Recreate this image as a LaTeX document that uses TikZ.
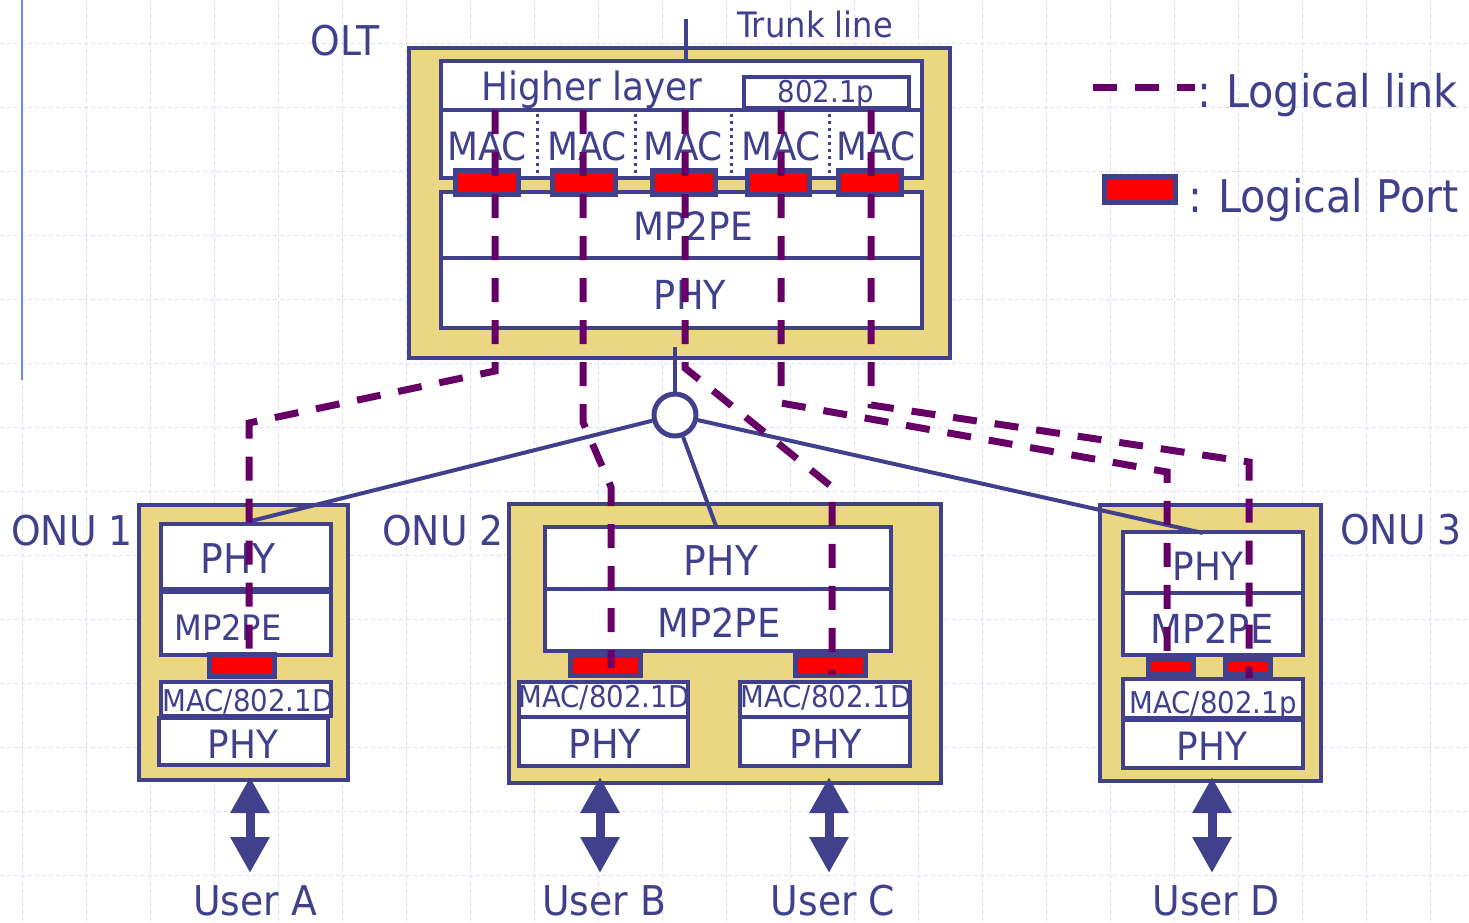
\documentclass[tikz,border=0pt]{standalone}
\usepackage{fontspec}
\setmainfont{DejaVu Sans}[FakeStretch=0.92]
\usetikzlibrary{arrows.meta}
\definecolor{ink}{RGB}{64,64,140}
\definecolor{tanfill}{RGB}{235,214,130}
\definecolor{plum}{RGB}{102,0,102}
\definecolor{gridc}{RGB}{216,224,252}
\definecolor{axisc}{RGB}{110,140,235}
\newcommand\fsz[1]{\fontsize{#1}{#1}\selectfont}
\newcommand\mybox[6]{\pgfmathsetmacro\bw{#4-#2}\pgfmathsetmacro\bh{#5-#3}%
  \node[#6, minimum width=\bw pt, minimum height=\bh pt] (#1) at (#2,#3) {};}
\tikzset{
  gridline/.style={draw=gridc, line width=1pt, dash pattern=on 4pt off 3pt},
  box/.style={draw=ink, line width=4pt, fill=white, inner sep=0pt, outer sep=0pt, anchor=north west},
  outerbox/.style={box, fill=tanfill},
  portbox/.style={draw=ink, line width=5pt, fill=red, inner sep=0pt, outer sep=0pt, anchor=north west},
  lab/.style={text=ink, inner sep=0pt, anchor=base},
  labw/.style={text=ink, inner sep=0pt, anchor=base west},
  wire/.style={draw=ink, line width=4pt},
  link/.style={draw=plum, line width=7pt, dash pattern=on 24pt off 18pt},
  sep/.style={draw=ink, line width=3pt, dash pattern=on 3pt off 4pt},
  userarrow/.style={draw=ink, line width=9pt, {Triangle[length=36pt,width=37pt]}-{Triangle[length=36pt,width=37pt]}},
}
\begin{document}
\begin{tikzpicture}[x=1pt,y=-1pt]
\useasboundingbox (0,0) rectangle (1469,922);
% background grid
\foreach \i in {0,...,22} \draw[gridline] ({22+64*\i},0) -- ({22+64*\i},922);
\foreach \j in {0,...,13} \draw[gridline] (0,{43+64*\j}) -- (1469,{43+64*\j});
\draw[axisc, line width=2pt] (22,0) -- (22,380);

% ---------- OLT ----------
\mybox{olt}{409}{48}{950}{358}{outerbox}
\mybox{hl}{441}{61}{922}{110}{box}
\mybox{dotp}{744}{77}{909}{108}{box}
\mybox{macrow}{441}{110}{922}{178}{box}
\mybox{oltmp}{441}{192}{922}{258}{box}
\mybox{oltphy}{441}{258}{922}{328}{box}
\foreach \x in {537,635,731,829} \draw[sep] (\x,114) -- (\x,176);
\node[lab, font=\fsz{41}] (toltlab) at (345,55) {OLT};
\node[lab, font=\fsz{35}] (ttrunk) at (815,37) {Trunk line};
\node[lab, font=\fsz{39}] (thl) at (592,100) {Higher layer};
\node[lab, font=\fsz{30}] (tdotp) at (826,102) {802.1p};
\node[lab, font=\fsz{39}] (tmac1) at (487,160) {MAC};
\node[lab, font=\fsz{39}] (tmac2) at (587,160) {MAC};
\node[lab, font=\fsz{39}] (tmac3) at (683,160) {MAC};
\node[lab, font=\fsz{39}] (tmac4) at (781,160) {MAC};
\node[lab, font=\fsz{39}] (tmac5) at (876,160) {MAC};
\node[lab, font=\fsz{39}] (toltmp) at (693,240) {MP2PE};
\node[lab, font=\fsz{40}] (toltphy) at (690,309) {PHY};
\mybox{op1}{455.5}{170.5}{518.5}{194.5}{portbox}
\mybox{op2}{552.5}{170.5}{615.5}{194.5}{portbox}
\mybox{op3}{652.5}{170.5}{715.5}{194.5}{portbox}
\mybox{op4}{747.5}{170.5}{809.5}{194.5}{portbox}
\mybox{op5}{838.5}{170.5}{901.5}{194.5}{portbox}
\coordinate (trunktop) at (686,19);
\coordinate (trunkbot) at (686,61);
\draw[wire] (trunktop) -- (trunkbot);

% ---------- ONU 1 ----------
\mybox{onu1}{139}{505}{348}{780}{outerbox}
\mybox{a1phy}{161}{524}{331}{589}{box}
\mybox{a1mp}{161}{592}{331}{655}{box}
\mybox{a1mac}{161}{682}{331}{716}{box}
\mybox{a1uphy}{159}{718}{328}{765}{box}
\mybox{a1port}{209.5}{654.5}{274.5}{676.5}{portbox}
\node[lab, font=\fsz{41}] (tonu1) at (72,545) {ONU 1};
\node[lab, font=\fsz{41}] (ta1phy) at (238,573) {PHY};
\node[lab, font=\fsz{35}] (ta1mp) at (228,640) {MP2PE};
\node[lab, font=\fsz{30}] (ta1mac) at (248,711) {MAC/802.1D};
\node[lab, font=\fsz{39}] (ta1uphy) at (243,758) {PHY};

% ---------- ONU 2 ----------
\mybox{onu2}{509}{504}{941}{783}{outerbox}
\mybox{b2phy}{545}{527}{891}{589}{box}
\mybox{b2mp}{545}{589}{891}{651}{box}
\mybox{b2macl}{519}{682}{688}{717}{box}
\mybox{b2phyl}{519}{717}{688}{766}{box}
\mybox{b2macr}{740}{682}{910}{717}{box}
\mybox{b2phyr}{740}{717}{910}{766}{box}
\mybox{b2portl}{570.5}{655.5}{640.5}{675.5}{portbox}
\mybox{b2portr}{795.5}{655.5}{865.5}{675.5}{portbox}
\node[lab, font=\fsz{41}] (tonu2) at (443,545) {ONU 2};
\node[lab, font=\fsz{41}] (tb2phy) at (721,575) {PHY};
\node[lab, font=\fsz{40}] (tb2mp) at (719,637) {MP2PE};
\node[lab, font=\fsz{30}] (tb2macl) at (604,707) {MAC/802.1D};
\node[lab, font=\fsz{30}] (tb2macr) at (826,707) {MAC/802.1D};
\node[lab, font=\fsz{40}] (tb2phyl) at (605,758) {PHY};
\node[lab, font=\fsz{40}] (tb2phyr) at (826,758) {PHY};

% ---------- ONU 3 ----------
\mybox{onu3}{1100}{505}{1321}{781}{outerbox}
\mybox{c3phy}{1123}{532}{1303}{593}{box}
\mybox{c3mp}{1123}{593}{1303}{655}{box}
\mybox{c3mac}{1123}{679}{1303}{718}{box}
\mybox{c3uphy}{1123}{720}{1303}{768}{box}
\mybox{c3port1}{1148.5}{659.5}{1193.5}{674.5}{portbox}
\mybox{c3port2}{1225.5}{659.5}{1270.5}{674.5}{portbox}
\node[lab, font=\fsz{41}] (tonu3) at (1401,544) {ONU 3};
\node[lab, font=\fsz{39}] (tc3phy) at (1208,580) {PHY};
\node[lab, font=\fsz{40}] (tc3mp) at (1212,643) {MP2PE};
\node[lab, font=\fsz{30}] (tc3mac) at (1213,713) {MAC/802.1p};
\node[lab, font=\fsz{39}] (tc3uphy) at (1212,760) {PHY};

% ---------- splitter and fibres ----------
\node[draw=ink, line width=5pt, fill=white, circle, minimum size=42pt, inner sep=0pt] (split) at (675,415) {};
\coordinate (oltdrop) at (675,347);
\coordinate (f1) at (251,521);
\coordinate (f2) at (716,526);
\coordinate (f3) at (1203,533);
\draw[wire] (oltdrop) -- (split);
\draw[wire] (split) -- (f1);
\draw[wire] (split) -- (f2);
\draw[wire] (split) -- (f3);

% ---------- logical links ----------
\draw[link] (495,110) -- (495,371) -- (249,423) -- (249,664);
\draw[link] (583,110) -- (583,422) -- (611,487) -- (611,668);
\draw[link] (685,110) -- (685,368) -- (832,487) -- (832,675);
\draw[link] (781,110) -- (781,403) -- (1167,472) -- (1167,666);
\draw[link] (871,110) -- (871,405) -- (1249,462) -- (1249,678);

% ---------- users ----------
\node[lab, font=\fsz{41}] (ua) at (255,915) {User A};
\node[lab, font=\fsz{41}] (ub) at (604,915) {User B};
\node[lab, font=\fsz{41}] (uc) at (833,915) {User C};
\node[lab, font=\fsz{41}] (ud) at (1216,915) {User D};
\coordinate (ua1) at (250,777); \coordinate (ua2) at (250,873);
\coordinate (ub1) at (600,777); \coordinate (ub2) at (600,873);
\coordinate (uc1) at (829,777); \coordinate (uc2) at (829,873);
\coordinate (ud1) at (1212,777); \coordinate (ud2) at (1212,873);
\draw[userarrow] (ua1) -- (ua2);
\draw[userarrow] (ub1) -- (ub2);
\draw[userarrow] (uc1) -- (uc2);
\draw[userarrow] (ud1) -- (ud2);

% ---------- legend ----------
\coordinate (lg1) at (1093,87);
\coordinate (lg2) at (1195,87);
\draw[link] (lg1) -- (lg2);
\node[labw, font=\fsz{45}] (lgc1) at (1197,107) {:};
\node[labw, font=\fsz{45}] (lgt1) at (1226,107) {Logical link};
\mybox{lgport}{1104.5}{176.5}{1175.5}{202.5}{portbox}
\node[labw, font=\fsz{45}] (lgc2) at (1188,212) {:};
\node[labw, font=\fsz{45}] (lgt2) at (1218,212) {Logical Port};
\end{tikzpicture}
\end{document}
